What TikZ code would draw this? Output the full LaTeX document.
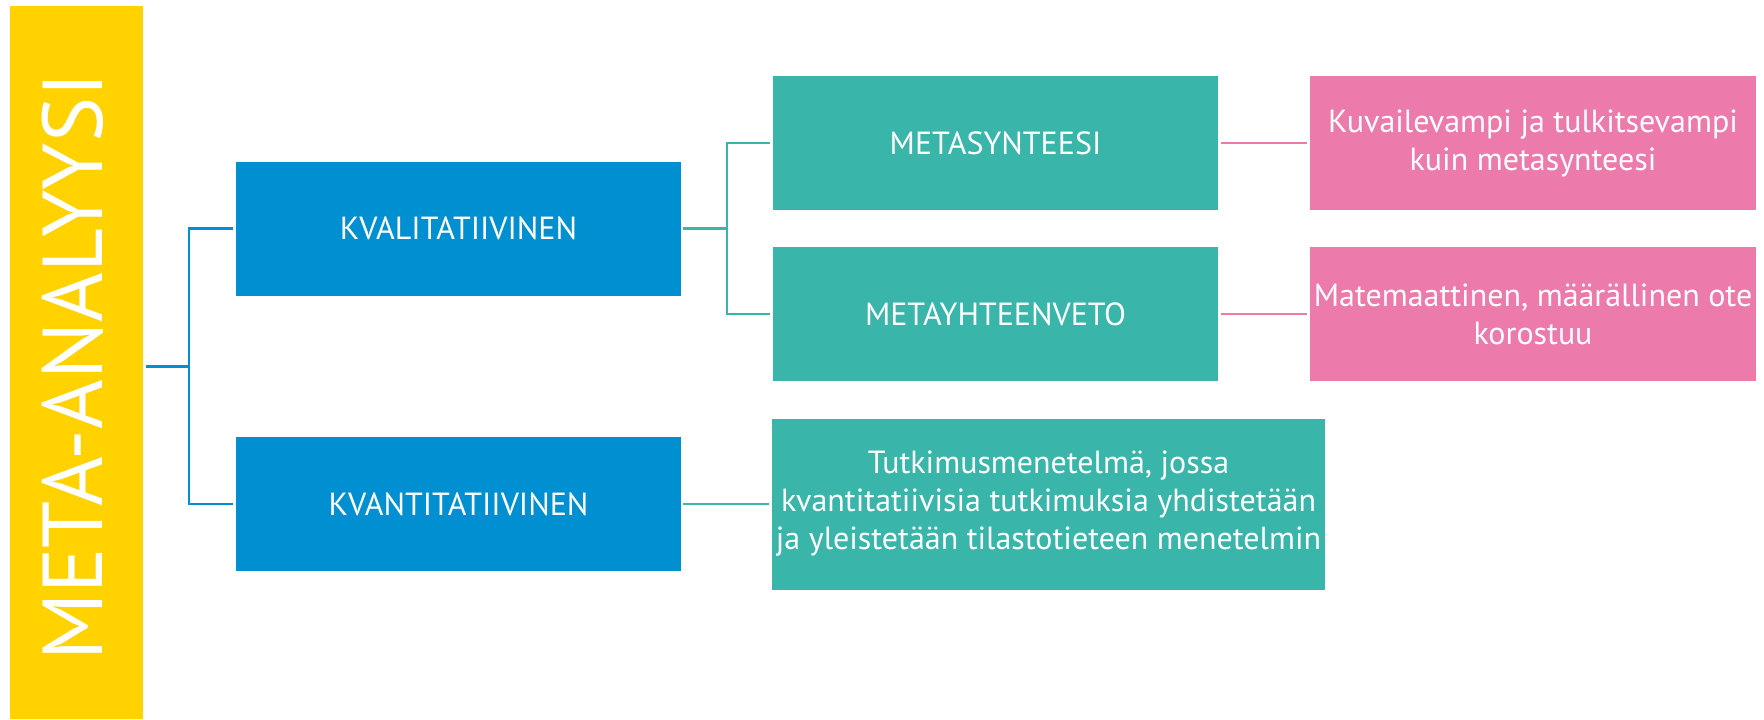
\documentclass[tikz,border=0pt]{standalone}
\usepackage{fontspec}
\setmainfont{PT Sans}
\definecolor{myyellow}{RGB}{255,210,0}
\definecolor{myblue}{RGB}{0,143,208}
\definecolor{myteal}{RGB}{58,181,170}
\definecolor{mypink}{RGB}{236,123,171}
\begin{document}
\begin{tikzpicture}[x=0.5pt,y=-0.5pt,
  box/.style={inner sep=0pt, outer sep=0pt, text=white, align=center,
    minimum width=222.5pt, minimum height=67pt},
  bluebox/.style={box, fill=myblue, font=\fontsize{16}{19}\selectfont},
  tealbox/.style={box, fill=myteal, font=\fontsize{16}{19}\selectfont},
  textbox/.style={box, font=\fontsize{16}{19}\selectfont},
  conn/.style={line width=1.4pt, line join=miter},
  bline/.style={conn, draw=myblue},
  tline/.style={conn, draw=myteal},
  pline/.style={conn, draw=mypink}]
\useasboundingbox (0,0) rectangle (1764,719);
% title bar
\node[box, fill=myyellow, minimum width=66.5pt, minimum height=356.5pt] (meta) at (76.5,362.5) {};
\node[rotate=90, text=white, inner sep=0pt, font=\fontsize{42.5}{42.5}\selectfont] (metalabel) at (73,367) {META-ANALYYSI};
% level 1
\node[bluebox] (kval) at (458.5,228.5) {KVALITATIIVINEN};
\node[bluebox] (kvant) at (458.5,504) {KVANTITATIIVINEN};
% level 2
\node[tealbox] (metas) at (995.5,143) {METASYNTEESI};
\node[tealbox] (metay) at (995.5,314) {METAYHTEENVETO};
\node[textbox, fill=myteal, minimum width=276.5pt, minimum height=85.5pt] (tutk) at (1048.5,504)
  {Tutkimusmenetelmä, jossa\\kvantitatiivisia tutkimuksia yhdistetään\\ja yleistetään tilastotieteen menetelmin};
% level 3
\node[textbox, fill=mypink, minimum width=223pt] (pink1) at (1533,143) {Kuvailevampi ja tulkitsevampi\\kuin metasynteesi};
\node[textbox, fill=mypink, minimum width=223pt] (pink2) at (1533,314) {Matemaattinen, määrällinen ote\\korostuu};
% connectors
\coordinate (bj) at (189,366.25);
\draw[bline] ([xshift=1.5pt]meta.east |- bj) -- (bj);
\draw[bline] ([xshift=-1.5pt]kval.west) -| (bj) |- ([xshift=-1.5pt]kvant.west);
\coordinate (tj) at (727,228.5);
\draw[tline] ([xshift=1pt]kval.east) -- (tj);
\draw[tline] ([xshift=-1.5pt]metas.west) -| (tj) |- ([xshift=-1.5pt]metay.west);
\draw[tline] ([xshift=1pt]kvant.east) -- ([xshift=-1.5pt]tutk.west);
\draw[pline] ([xshift=1.5pt]metas.east) -- ([xshift=-1.5pt]pink1.west);
\draw[pline] ([xshift=1.5pt]metay.east) -- ([xshift=-1.5pt]pink2.west);
\end{tikzpicture}
\end{document}
